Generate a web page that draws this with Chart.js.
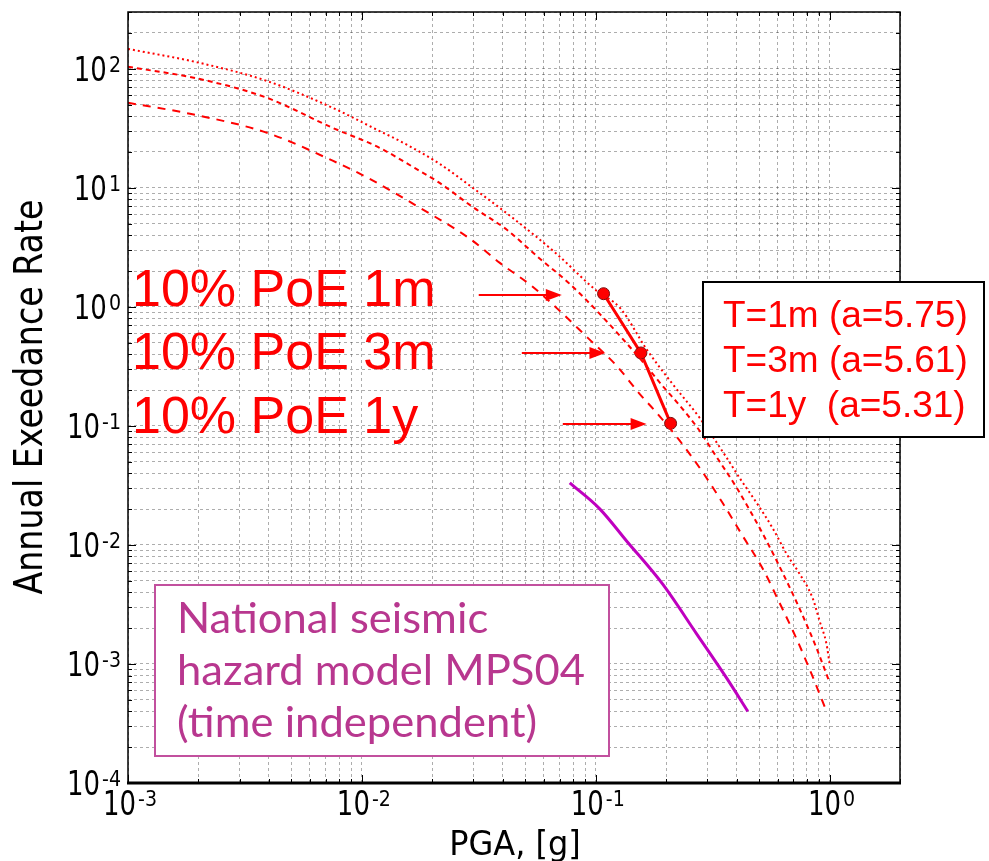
<!DOCTYPE html>
<html>
<head>
<meta charset="utf-8">
<script src="https://cdn.jsdelivr.net/npm/chart.js@4.4.1/dist/chart.umd.min.js"></script>
<style>
  html, body { margin: 0; padding: 0; background: #fff; }
  canvas { display: block; }
</style>
</head>
<body>
<canvas id="hazardChart" width="989" height="861"></canvas>
<script>
// hazard curves (PGA in g, annual exceedance rate)
const pga1m  = [0.001, 0.00203, 0.00393, 0.0075, 0.0119, 0.0145, 0.0215, 0.0298, 0.0441, 0.068, 0.101, 0.127, 0.165, 0.213, 0.278, 0.363, 0.412, 0.488, 0.570, 0.655, 0.745, 0.845, 0.906, 0.97, 1.0];
const rate1m = [147, 112, 79, 47, 30, 24.8, 15.9, 10, 5.6, 2.79, 1.36, 0.98, 0.44, 0.225, 0.117, 0.054, 0.0366, 0.0225, 0.0139, 0.0084, 0.0057, 0.0036, 0.0023, 0.00147, 0.001];

const pga3m  = [0.001, 0.00203, 0.00393, 0.0075, 0.0119, 0.0168, 0.0215, 0.0298, 0.0417, 0.0565, 0.0774, 0.104, 0.156, 0.193, 0.233, 0.278, 0.316, 0.401, 0.518, 0.624, 0.745, 0.879, 0.97, 1.0];
const rate3m = [104, 82, 57, 31.9, 21.7, 14.7, 11.0, 6.9, 4.44, 2.63, 1.56, 0.873, 0.36, 0.217, 0.142, 0.091, 0.0616, 0.0301, 0.0124, 0.00605, 0.0029, 0.00136, 0.00082, 0.0007];

const pga1y  = [0.001, 0.00184, 0.00393, 0.0075, 0.0108, 0.0177, 0.029, 0.0389, 0.0532, 0.0701, 0.0925, 0.123, 0.154, 0.179, 0.229, 0.284, 0.349, 0.425, 0.518, 0.611, 0.723, 0.838, 0.97];
const rate1y = [51.8, 41.9, 29.0, 16.9, 11.9, 6.79, 3.73, 2.34, 1.50, 0.926, 0.549, 0.319, 0.186, 0.134, 0.0748, 0.0419, 0.0225, 0.0119, 0.0063, 0.00326, 0.00162, 0.00082, 0.0004];

// MPS04 (time independent)
const pgaMps  = [0.0774, 0.104, 0.1355, 0.193, 0.270, 0.363, 0.447];
const rateMps = [0.0332, 0.0201, 0.0108, 0.0047, 0.00179, 0.00076, 0.0004];

// 10% PoE points
const poeLabels = ['10% PoE 1m', '10% PoE 3m', '10% PoE 1y'];
const poePga    = [0.108, 0.156, 0.209];
const poeRate   = [1.29, 0.41, 0.105];
// arrows: start / tip on x, at the rate level of each PoE
const arrowFrom = [0.0316, 0.0483, 0.0723];
const arrowTo   = [0.0716, 0.110, 0.165];
const arrowRate = [1.26, 0.41, 0.104];

const boxLines  = ['T=1m (a=5.75)', 'T=3m (a=5.61)', 'T=1y  (a=5.31)'];
const mpsLines  = ['National seismic', 'hazard model MPS04', '(time independent)'];

const xMajorExps = [-3, -2, -1, 0];
const yMajorExps = [-4, -3, -2, -1, 0, 1, 2];
const X_MIN = 0.001, X_MAX = 2, Y_MIN = 0.0001, Y_MAX = 300;

// grid positions 1..9 x 10^n inside the range
function logGrid(min, max) {
    const out = [];
    for (let e = Math.floor(Math.log10(min)); e <= Math.ceil(Math.log10(max)); e++) {
        for (let m = 1; m <= 9; m++) {
            const v = Number((m * Math.pow(10, e)).toPrecision(3));
            if (v >= min * 0.9999 && v <= max * 1.0001) out.push(v);
        }
    }
    return out;
}
const xGrid = logGrid(X_MIN, X_MAX);
const yGrid = logGrid(Y_MIN, Y_MAX);

const toPts = (xs, ys) => xs.map((x, i) => ({ x: x, y: ys[i] }));
const isMajor = v => Math.abs(Math.log10(v) - Math.round(Math.log10(v))) < 1e-6;

const RED = '#ff0000';
const TICK_FONT = '"DejaVu Sans", sans-serif';

function drawText(ctx, s, x, y, font, color, align, sx, sy) {
    ctx.save();
    ctx.font = font;
    ctx.fillStyle = color;
    ctx.textAlign = align || 'left';
    ctx.textBaseline = 'alphabetic';
    ctx.translate(x, y);
    ctx.scale(sx || 1, sy || 1);
    ctx.fillText(s, 0, 0);
    ctx.restore();
}

// "10" with superscript exponent; (x, baseline) anchor, align 'right' or 'center'
function powerLabel(ctx, exp, x, base, align) {
    const mainFont = '26px ' + TICK_FONT;
    const supFont = '19px ' + TICK_FONT;
    const sup = String(exp);
    ctx.font = mainFont;
    const w1 = ctx.measureText('10').width;
    ctx.font = supFont;
    const w2 = ctx.measureText(sup).width;
    const total = w1 + 2 + w2;
    const left = align === 'right' ? x - total : x - total / 2;
    drawText(ctx, '10', left, base, mainFont, '#000', 'left', 1, 1.3);
    drawText(ctx, sup, left + w1 + 2, base - 9, supFont, '#000', 'left', 1, 1.1);
}

function arrow(ctx, x0, x1, y) {
    const head = 16, half = 6;
    ctx.save();
    ctx.strokeStyle = RED;
    ctx.fillStyle = RED;
    ctx.lineWidth = 2;
    ctx.beginPath();
    ctx.moveTo(x0, y);
    ctx.lineTo(x1 - head + 2, y);
    ctx.stroke();
    ctx.beginPath();
    ctx.moveTo(x1, y);
    ctx.lineTo(x1 - head, y - half);
    ctx.lineTo(x1 - head, y + half);
    ctx.closePath();
    ctx.fill();
    ctx.restore();
}

const overlayPlugin = {
    id: 'overlay',
    afterDraw(chart) {
        const ctx = chart.ctx;
        const xs = chart.scales.x, ys = chart.scales.y;
        const a = chart.chartArea;

        // inward tick marks on all four sides
        ctx.save();
        ctx.strokeStyle = '#000';
        ctx.lineWidth = 1;
        ctx.beginPath();
        xGrid.forEach(v => {
            const px = Math.round(xs.getPixelForValue(v)) + 0.5;
            const len = isMajor(v) ? 8 : 4;
            ctx.moveTo(px, a.bottom); ctx.lineTo(px, a.bottom - len);
            ctx.moveTo(px, a.top); ctx.lineTo(px, a.top + len);
        });
        yGrid.forEach(v => {
            const py = Math.round(ys.getPixelForValue(v)) + 0.5;
            const len = isMajor(v) ? 8 : 4;
            ctx.moveTo(a.left, py); ctx.lineTo(a.left + len, py);
            ctx.moveTo(a.right, py); ctx.lineTo(a.right - len, py);
        });
        ctx.stroke();

        // frame
        ctx.lineWidth = 1.5;
        ctx.strokeRect(a.left, a.top, a.right - a.left, a.bottom - a.top);
        ctx.lineWidth = 3;
        ctx.beginPath();
        ctx.moveTo(a.left - 1, a.bottom);
        ctx.lineTo(a.right + 1, a.bottom);
        ctx.stroke();
        ctx.restore();

        // tick labels
        yMajorExps.forEach(e => {
            const py = ys.getPixelForValue(Math.pow(10, e));
            powerLabel(ctx, e, 121, py + 12, 'right');
        });
        xMajorExps.forEach(e => {
            const px = xs.getPixelForValue(Math.pow(10, e));
            powerLabel(ctx, e, px + 2, 815, 'center');
        });

        // axis titles
        drawText(ctx, 'PGA, [g]', 515, 855, '32px ' + TICK_FONT, '#000', 'center', 1, 1.06);
        ctx.save();
        ctx.translate(42, 397);
        ctx.rotate(-Math.PI / 2);
        ctx.font = '33px ' + TICK_FONT;
        const yTitle = 'Annual Exeedance Rate';
        const sxT = 395 / ctx.measureText(yTitle).width;
        drawText(ctx, yTitle, 0, 0, '33px ' + TICK_FONT, '#000', 'center', sxT, 1.2);
        ctx.restore();

        // arrows and PoE labels
        arrowRate.forEach((r, i) => {
            arrow(ctx, xs.getPixelForValue(arrowFrom[i]), xs.getPixelForValue(arrowTo[i]), Math.round(ys.getPixelForValue(r)));
        });
        const poeBase = [306, 369, 433];
        poeLabels.forEach((s, i) => {
            drawText(ctx, s, 132, poeBase[i], '52px "Liberation Sans", Arial, sans-serif', RED, 'left');
        });

        // MPS04 note box
        ctx.save();
        ctx.fillStyle = '#fff';
        ctx.fillRect(155, 585, 454, 171);
        ctx.strokeStyle = '#c2509e';
        ctx.lineWidth = 2;
        ctx.strokeRect(155, 585, 454, 171);
        ctx.restore();
        const mpsFont = '41px Lato, "Open Sans", sans-serif';
        ctx.font = mpsFont;
        const sxM = 408 / ctx.measureText(mpsLines[1]).width;
        const mpsBase = [633, 685, 737];
        mpsLines.forEach((s, i) => drawText(ctx, s, 177, mpsBase[i], mpsFont, '#b8378f', 'left', sxM, 1.05));

        // a-value box
        ctx.save();
        ctx.fillStyle = '#fff';
        ctx.fillRect(703, 282, 281, 155);
        ctx.strokeStyle = '#000';
        ctx.lineWidth = 2;
        ctx.strokeRect(703, 282, 281, 155);
        ctx.restore();
        const boxBase = [327, 372, 417];
        boxLines.forEach((s, i) => drawText(ctx, s, 723, boxBase[i], '37px "Liberation Sans", Arial, sans-serif', RED, 'left'));
    }
};

const gridStyle = { color: 'rgba(0,0,0,0.32)', lineWidth: 1, drawTicks: false };

function curve(label, xs, ys, dash) {
    return {
        label: label,
        data: toPts(xs, ys),
        showLine: true,
        borderColor: RED,
        borderWidth: 2,
        borderDash: dash,
        cubicInterpolationMode: 'monotone',
        pointRadius: 0
    };
}

new Chart(document.getElementById('hazardChart'), {
    type: 'scatter',
    data: {
        datasets: [
            curve('T=1m', pga1m, rate1m, [2, 3]),
            curve('T=3m', pga3m, rate3m, [5, 4]),
            curve('T=1y', pga1y, rate1y, [8, 7]),
            {
                label: 'MPS04',
                data: toPts(pgaMps, rateMps),
                showLine: true,
                borderColor: '#bf00bf',
                borderWidth: 3,
                cubicInterpolationMode: 'monotone',
                pointRadius: 0
            },
            {
                label: '10% PoE',
                data: toPts(poePga, poeRate),
                showLine: true,
                borderColor: RED,
                borderWidth: 3,
                pointRadius: 6,
                pointBackgroundColor: RED,
                pointBorderColor: '#7a1010',
                pointBorderWidth: 1
            }
        ]
    },
    options: {
        responsive: false,
        animation: false,
        devicePixelRatio: 1,
        layout: { padding: { left: 128, right: 89, top: 12, bottom: 78 } },
        plugins: {
            legend: { display: false },
            tooltip: { enabled: false }
        },
        scales: {
            x: {
                type: 'logarithmic',
                min: X_MIN,
                max: X_MAX,
                ticks: { display: false },
                grid: gridStyle,
                border: { display: false, dash: [3, 3] },
                afterBuildTicks: s => { s.ticks = xGrid.map(v => ({ value: v })); }
            },
            y: {
                type: 'logarithmic',
                min: Y_MIN,
                max: Y_MAX,
                ticks: { display: false },
                grid: gridStyle,
                border: { display: false, dash: [3, 3] },
                afterBuildTicks: s => { s.ticks = yGrid.map(v => ({ value: v })); }
            }
        }
    },
    plugins: [overlayPlugin]
});
</script>
</body>
</html>
